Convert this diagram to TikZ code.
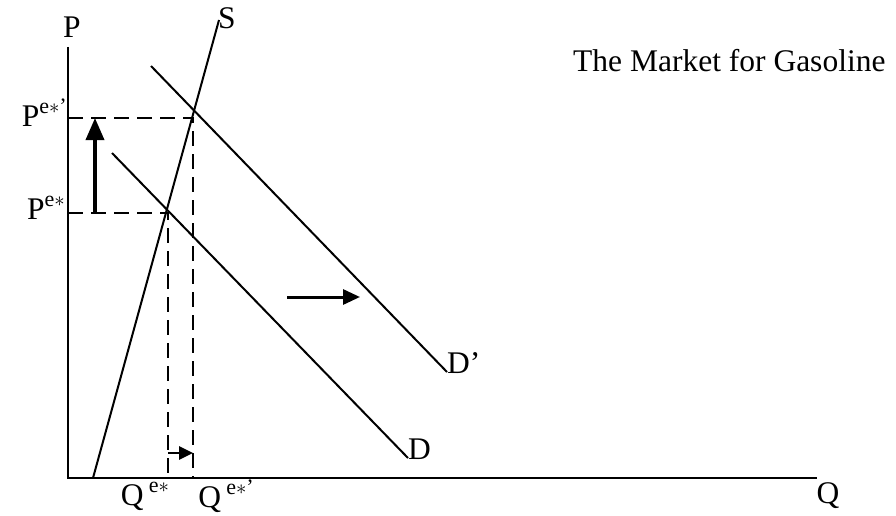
\documentclass[tikz,border=0pt]{standalone}
\usepackage{fontspec}
\setmainfont{Liberation Serif}
\usetikzlibrary{arrows.meta}
\newcommand{\sps}[1]{\raisebox{0.42em}{\fontsize{22}{22}\selectfont #1}}
\begin{document}
\begin{tikzpicture}[x=1pt,y=-1pt,
  lbl/.style={font=\fontsize{31.5}{34}\selectfont, inner sep=0pt},
  axisline/.style={line width=2.2pt},
  curve/.style={line width=2pt},
  guide/.style={line width=2pt, dash pattern=on 15pt off 8pt},
  bigarrow/.style={line width=3.6pt, -{Triangle[length=22pt,width=18pt]}},
  midarrow/.style={line width=3pt, -{Triangle[length=17pt,width=15pt]}},
  smallarrow/.style={line width=2.8pt, -{Triangle[length=14pt,width=13pt]}}]
\useasboundingbox (0,0) rectangle (896,516);
% axes
\coordinate (top) at (68,47);
\coordinate (origin) at (68,478);
\coordinate (right) at (817,478);
\draw[axisline] (top) -- (origin) -- (right);
% supply and demand
\coordinate (s0) at (93,478);
\coordinate (s1) at (219,20);
\draw[curve] (s0) -- (s1);
\coordinate (d0) at (112,153);
\coordinate (d1) at (408,458);
\draw[curve] (d0) -- (d1);
\coordinate (e0) at (151,66);
\coordinate (e1) at (447,372);
\draw[curve] (e0) -- (e1);
% equilibria
\coordinate (pa) at (68,118);
\coordinate (ea) at (193,118);
\coordinate (qa) at (193,478);
\coordinate (pb) at (68,213);
\coordinate (eb) at (168,213);
\coordinate (qb) at (168,478);
\draw[guide] (pa) -- (ea) -- (qa);
\draw[guide] (pb) -- (eb) -- (qb);
% arrows
\coordinate (ua0) at (95,213);
\coordinate (ua1) at (95,118);
\draw[bigarrow] (ua0) -- (ua1);
\coordinate (ra0) at (287,297);
\coordinate (ra1) at (360,297);
\draw[midarrow] (ra0) -- (ra1);
\coordinate (sa0) at (168,453);
\coordinate (sa1) at (193,453);
\draw[smallarrow] (sa0) -- (sa1);
% labels
\node[lbl] (lP) at (72,27) {P};
\node[lbl, anchor=east] (lPa) at (67,113) {P\sps{e$\ast$’}};
\node[lbl, anchor=east] (lPb) at (65,208) {P\sps{e$\ast$}};
\node[lbl] (lQb) at (145,496) {Q\,\sps{e$\ast$}};
\node[lbl] (lQa) at (226,496) {Q\,\sps{e$\ast$’}};
\node[lbl] (lQ) at (828,496) {Q};
\node[lbl, anchor=west] (lS) at (218,18) {S};
\node[lbl, anchor=west] (lD) at (408,449) {D};
\node[lbl, anchor=west] (lDa) at (447,363) {D’};
\node[lbl, anchor=west] (title) at (573,61) {The Market for Gasoline};
\end{tikzpicture}
\end{document}
